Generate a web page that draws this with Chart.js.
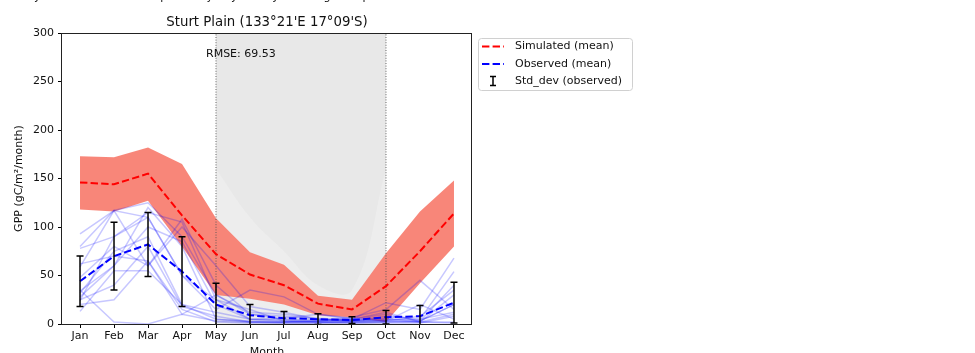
<!DOCTYPE html>
<html>
<head>
<meta charset="utf-8">
<script src="https://cdn.jsdelivr.net/npm/chart.js@4.4.0/dist/chart.umd.min.js"></script>
<style>
  html, body { margin: 0; padding: 0; background: #fff; overflow: hidden; }
  #wrap { position: relative; width: 975px; height: 353px; }
</style>
</head>
<body>
<div id="wrap"><canvas id="gpp" width="975" height="353"></canvas></div>
<script>
const months = ['Jan', 'Feb', 'Mar', 'Apr', 'May', 'Jun', 'Jul', 'Aug', 'Sep', 'Oct', 'Nov', 'Dec'];

// simulated GPP: ensemble mean and spread
const simMean  = [146, 144, 155, 112, 72, 51, 40, 21, 15, 39, 75, 114];
const simUpper = [173, 172, 182, 165, 109, 74, 61, 29, 25, 73, 116, 148];
const simLower = [118, 116, 127, 80, 30, 26, 20, 9, 7, 2, 42, 80];

// observed GPP: mean and standard deviation across years
const obsMean = [44, 70, 82, 54, 20, 9, 6, 5, 4, 7, 8, 22];
const obsStd  = [26, 35, 33, 36, 22, 11, 7, 5.5, 3.5, 7, 11, 21];

// observed GPP for the individual years
const obsYears = [
  [93, 117, 60, 108, 40, 10, 8, 5, 3, 8, 5, 54],
  [80, 117, 125, 90, 30, 12, 10, 6, 4, 6, 3, 20],
  [78, 90, 115, 105, 25, 5, 3, 2, 2, 3, 2, 10],
  [59, 117, 110, 50, 15, 35, 28, 10, 5, 22, 15, 68],
  [48, 80, 60, 100, 60, 18, 12, 5, 3, 3, 20, 5],
  [34, 60, 100, 85, 20, 5, 4, 3, 3, 5, 2, 30],
  [32, 75, 90, 20, 5, 3, 2, 3, 7, 15, 45, 15],
  [25, 40, 80, 18, 8, 2, 1, 1, 2, 2, 3, 40],
  [20, 25, 65, 15, 2, 1, 1, 1, 1, 1, 1, 8],
  [13, 55, 55, 20, 12, 5, 6, 10, 6, 3, 8, 35],
  [35, 2, 0, 10, 3, 2, 2, 2, 1, 2, 2, 2],
  [24, 90, 110, 50, 25, 15, 3, 2, 3, 4, 5, 12],
  [28, 60, 120, 80, 5, 2, 2, 3, 5, 10, 3, 20],
  [62, 70, 65, 10, 30, 10, 5, 4, 5, 12, 2, 1]
];

// dry season window (May..Oct) and the paler patch inside it
const drySeason = [5, 10];
const hazeMonths = [5, 6, 7, 8, 9, 10];
const hazeTop = [160, 110, 75, 40, 35, 160];

const yMax = 300;
const rmse = 69.53;
const siteTitle = "Sturt Plain (133°21'E 17°09'S)";

const FONT = '"DejaVu Sans", sans-serif';

function series(values) {
  return values.map((v, i) => ({ x: i + 1, y: v }));
}

const datasets = [
  {
    data: drySeason.map(m => ({ x: m, y: yMax })),
    fill: 'origin', backgroundColor: '#e8e8e8', borderWidth: 0, order: 100
  },
  {
    data: hazeMonths.map((m, i) => ({ x: m, y: hazeTop[i] })),
    fill: 'origin', backgroundColor: 'rgba(255,255,255,0.22)', borderWidth: 0, tension: 0.4, order: 99
  },
  {
    data: series(simUpper),
    fill: 3, backgroundColor: 'rgba(248,128,114,0.95)', borderWidth: 0, order: 90
  },
  {
    data: series(simLower),
    fill: false, borderWidth: 0, order: 89
  }
];

obsYears.forEach(vals => {
  datasets.push({
    data: series(vals),
    borderColor: 'rgba(0,0,255,0.22)', borderWidth: 1.5, fill: false, order: 50
  });
});

drySeason.forEach(m => {
  datasets.push({
    data: [{ x: m, y: 0 }, { x: m, y: yMax }],
    borderColor: '#555', borderWidth: 0.9, borderDash: [1, 1.6], fill: false, order: 30
  });
});

datasets.push({
  data: series(simMean),
  borderColor: '#ff0000', borderWidth: 2, borderDash: [7.4, 3.2], fill: false, order: 5
});
datasets.push({
  data: series(obsMean),
  borderColor: '#0000ff', borderWidth: 2, borderDash: [7.4, 3.2], fill: false, order: 4
});

// error bars, axes frame and all the annotation text
const decorations = {
  id: 'decorations',
  afterDatasetsDraw(chart) {
    const { ctx, chartArea: a, scales: { x, y } } = chart;

    ctx.save();
    ctx.beginPath();
    ctx.rect(a.left, a.top, a.right - a.left, a.bottom - a.top);
    ctx.clip();
    ctx.strokeStyle = '#000';
    ctx.lineWidth = 1.5;
    obsMean.forEach((m, i) => {
      const px = x.getPixelForValue(i + 1);
      const top = y.getPixelForValue(m + obsStd[i]);
      const bot = y.getPixelForValue(m - obsStd[i]);
      ctx.beginPath();
      ctx.moveTo(px, top); ctx.lineTo(px, bot);
      ctx.moveTo(px - 3.5, top); ctx.lineTo(px + 3.5, top);
      ctx.moveTo(px - 3.5, bot); ctx.lineTo(px + 3.5, bot);
      ctx.stroke();
    });
    ctx.restore();

    ctx.save();
    ctx.strokeStyle = '#222';
    ctx.lineWidth = 1;
    ctx.strokeRect(Math.round(a.left) - 0.5, Math.round(a.top) + 0.5,
                   Math.round(a.right - a.left), Math.round(a.bottom - a.top));
    ctx.restore();
  },
  afterDraw(chart) {
    const { ctx, chartArea: a } = chart;
    const cx = (a.left + a.right) / 2;
    ctx.save();
    ctx.fillStyle = '#111';

    // tick labels of the panel above, mostly outside the window
    ctx.font = '11px ' + FONT;
    ctx.textAlign = 'center';
    ctx.textBaseline = 'alphabetic';
    months.forEach((m, i) => ctx.fillText(m, 44 + i * 39.4, -0.5));

    ctx.font = '13.3px ' + FONT;
    ctx.fillText(siteTitle, cx, 26);

    ctx.font = '11px ' + FONT;
    ctx.fillText('Month', cx, 355);

    ctx.textAlign = 'left';
    ctx.fillText('RMSE: ' + rmse.toFixed(2), 206, 56.5);

    ctx.save();
    ctx.translate(19, (a.top + a.bottom) / 2);
    ctx.rotate(-Math.PI / 2);
    ctx.textAlign = 'center';
    ctx.textBaseline = 'middle';
    ctx.fillText('GPP (gC/m\u00b2/month)', 0, 0);
    ctx.restore();

    // legend
    const lx = 478, ly = 38, lw = 154, lh = 52;
    ctx.beginPath();
    ctx.roundRect(lx + 0.5, ly + 0.5, lw, lh, 3);
    ctx.fillStyle = 'rgba(255,255,255,0.8)';
    ctx.fill();
    ctx.strokeStyle = '#d0d0d0';
    ctx.lineWidth = 1;
    ctx.stroke();

    const rows = [
      { label: 'Simulated (mean)', color: '#ff0000', y: 46.5 },
      { label: 'Observed (mean)', color: '#0000ff', y: 64 },
      { label: 'Std_dev (observed)', color: null, y: 81 }
    ];
    rows.forEach(r => {
      if (r.color) {
        ctx.strokeStyle = r.color;
        ctx.lineWidth = 2;
        ctx.setLineDash([7.4, 3.2]);
        ctx.beginPath();
        ctx.moveTo(482, r.y); ctx.lineTo(504, r.y);
        ctx.stroke();
        ctx.setLineDash([]);
      } else {
        ctx.strokeStyle = '#000';
        ctx.lineWidth = 1.5;
        ctx.beginPath();
        ctx.moveTo(493, r.y - 4.5); ctx.lineTo(493, r.y + 4.5);
        ctx.moveTo(490, r.y - 4.5); ctx.lineTo(496, r.y - 4.5);
        ctx.moveTo(490, r.y + 4.5); ctx.lineTo(496, r.y + 4.5);
        ctx.stroke();
      }
      ctx.fillStyle = '#111';
      ctx.textAlign = 'left';
      ctx.textBaseline = 'middle';
      ctx.fillText(r.label, 515, r.y);
    });
    ctx.restore();
  }
};

Chart.defaults.font.family = FONT;
Chart.defaults.color = '#111';

new Chart(document.getElementById('gpp'), {
  type: 'line',
  data: { datasets },
  options: {
    responsive: false,
    animation: false,
    devicePixelRatio: 1,
    layout: { padding: { top: 33, right: 503, left: 0, bottom: 0 } },
    elements: { point: { radius: 0 }, line: { tension: 0 } },
    plugins: { legend: { display: false }, tooltip: { enabled: false } },
    scales: {
      x: {
        type: 'linear',
        min: 0.47,
        max: 12.53,
        afterFit: s => { s.height = 29; },
        afterBuildTicks: s => { s.ticks = months.map((m, i) => ({ value: i + 1 })); },
        ticks: {
          autoSkip: false, maxRotation: 0, padding: 2,
          font: { size: 11 },
          callback: v => months[Math.round(v) - 1]
        },
        grid: { drawOnChartArea: false, tickLength: 4, tickColor: '#000', tickWidth: 1 },
        border: { display: false }
      },
      y: {
        min: 0,
        max: yMax,
        afterFit: s => { s.width = 62; },
        ticks: { stepSize: 50, padding: 4, font: { size: 11 } },
        grid: { drawOnChartArea: false, tickLength: 4, tickColor: '#000', tickWidth: 1 },
        border: { display: false }
      }
    }
  },
  plugins: [decorations]
});
</script>
</body>
</html>
